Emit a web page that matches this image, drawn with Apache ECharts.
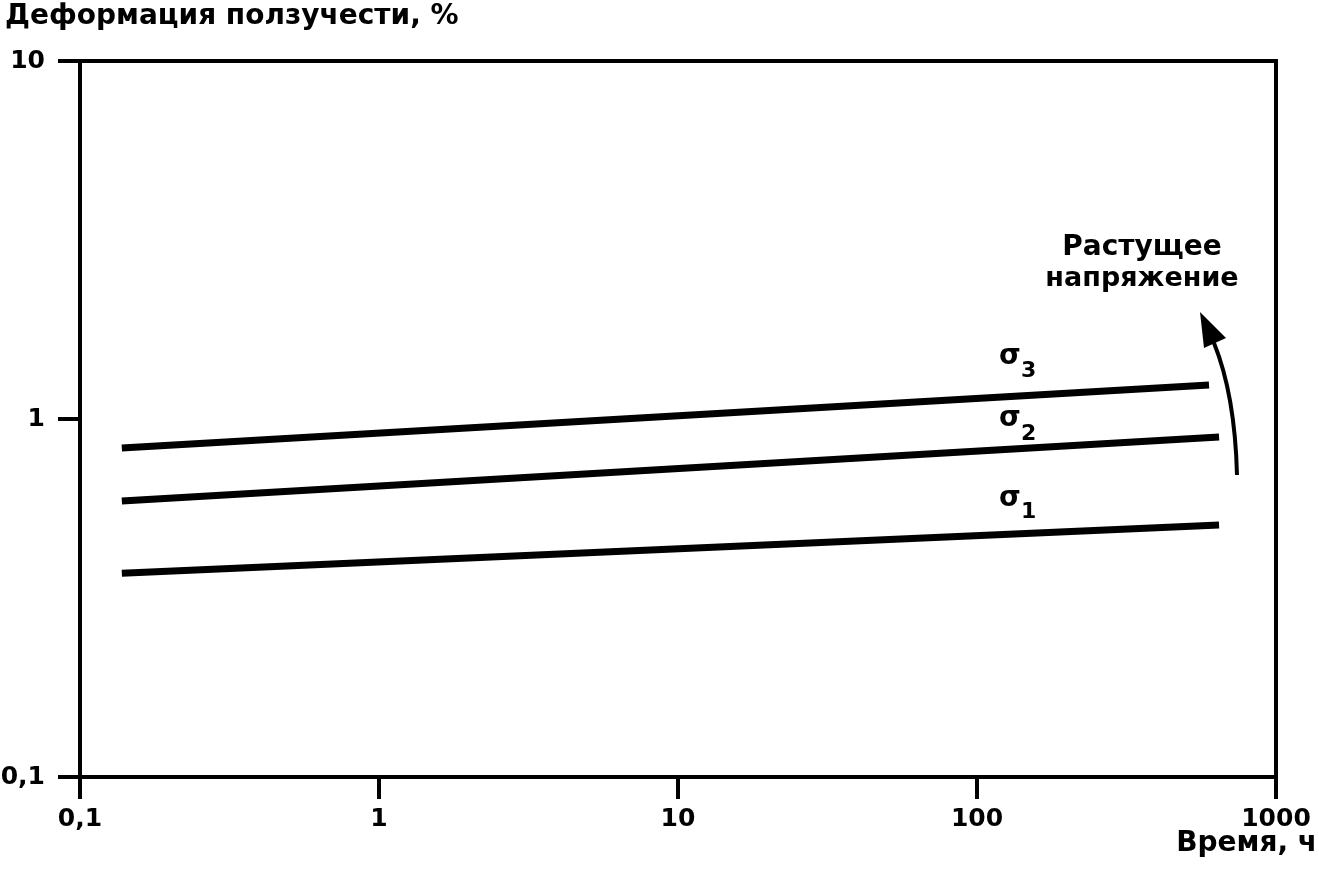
<!DOCTYPE html>
<html><head><meta charset="utf-8">
<script src="https://cdn.jsdelivr.net/npm/echarts@6/dist/echarts.min.js"></script>
<style>html,body{margin:0;padding:0;background:#fff}#c{width:1319px;height:874px}</style>
</head><body><div id="c"></div>
<script>
// Data
var timeHours = [0.138, 645];
var sigma1 = [0.371, 0.506];
var sigma2 = [0.590, 0.891];
var sigma3Time = [0.138, 597];
var sigma3 = [0.830, 1.244];
var xTicks = ['0,1', '1', '10', '100', '1000'];
var yTicks = ['0,1', '1', '10'];
var seriesNames = ['σ1', 'σ2', 'σ3'];

function pairs(xs, ys){ return xs.map(function(x,i){ return [x, ys[i]]; }); }
var FONT = 'DejaVu Sans';
var chart = echarts.init(document.getElementById('c'), null, {renderer:'canvas'});
function lineSeries(name, data){
  return {name:name, type:'line', data:data, symbol:'none', silent:true,
    lineStyle:{color:'#000', width:7, cap:'butt'}};
}
function f(sz){ return 'bold ' + sz + 'px "DejaVu Sans"'; }
chart.setOption({
  animation:false,
  backgroundColor:'#fff',
  grid:{left:80, top:61, right:43, bottom:97, show:true, borderColor:'#000', borderWidth:4,
    containLabel:false, outerBoundsMode:'none'},
  xAxis:{type:'log', logBase:10, min:0.1, max:1000,
    axisLine:{show:true, lineStyle:{color:'#000', width:4}},
    axisTick:{show:true, length:22, inside:false, lineStyle:{color:'#000', width:4}},
    minorTick:{show:false}, splitLine:{show:false},
    axisLabel:{color:'#000', fontFamily:FONT, fontWeight:'bold', fontSize:25, margin:30,
      formatter:function(v){ var i=Math.round(Math.log10(v))+1; return xTicks[i]; }}},
  yAxis:{type:'log', logBase:10, min:0.1, max:10,
    axisLine:{show:true, lineStyle:{color:'#000', width:4}},
    axisTick:{show:true, length:22, inside:false, lineStyle:{color:'#000', width:4}},
    minorTick:{show:false}, splitLine:{show:false},
    axisLabel:{color:'#000', fontFamily:FONT, fontWeight:'bold', fontSize:25, margin:35,
      formatter:function(v){ var i=Math.round(Math.log10(v))+1; return yTicks[i]; }}},
  series:[
    lineSeries(seriesNames[0], pairs(timeHours, sigma1)),
    lineSeries(seriesNames[1], pairs(timeHours, sigma2)),
    lineSeries(seriesNames[2], pairs(sigma3Time, sigma3))
  ],
  graphic:[
    {type:'text', left:5, top:3, style:{text:'Деформация ползучести, %', fill:'#000', font:f(28)}},
    {type:'text', right:2, top:830, style:{text:'Время, ч', fill:'#000', font:f(28)}},
    {type:'text', x:1142, y:234, style:{text:'Растущее', fill:'#000', font:f(28), align:'center'}},
    {type:'text', x:1142, y:265, style:{text:'напряжение', fill:'#000', font:f(27), align:'center'}},
    {type:'text', x:999, y:371, style:{text:'σ', fill:'#000', font:f(28), verticalAlign:'bottom'}},
    {type:'text', x:1021, y:382, style:{text:'3', fill:'#000', font:f(22), verticalAlign:'bottom'}},
    {type:'text', x:999, y:433, style:{text:'σ', fill:'#000', font:f(28), verticalAlign:'bottom'}},
    {type:'text', x:1021, y:445, style:{text:'2', fill:'#000', font:f(22), verticalAlign:'bottom'}},
    {type:'text', x:999, y:513, style:{text:'σ', fill:'#000', font:f(28), verticalAlign:'bottom'}},
    {type:'text', x:1021, y:523, style:{text:'1', fill:'#000', font:f(22), verticalAlign:'bottom'}},
    {type:'bezierCurve', shape:{x1:1237, y1:475, x2:1214, y2:343, cpx1:1235, cpy1:395}, style:{stroke:'#000', lineWidth:4, fill:null}},
    {type:'polygon', shape:{points:[[1200,312],[1226,338],[1204,348]]}, style:{fill:'#000'}}
  ]
});
</script></body></html>
